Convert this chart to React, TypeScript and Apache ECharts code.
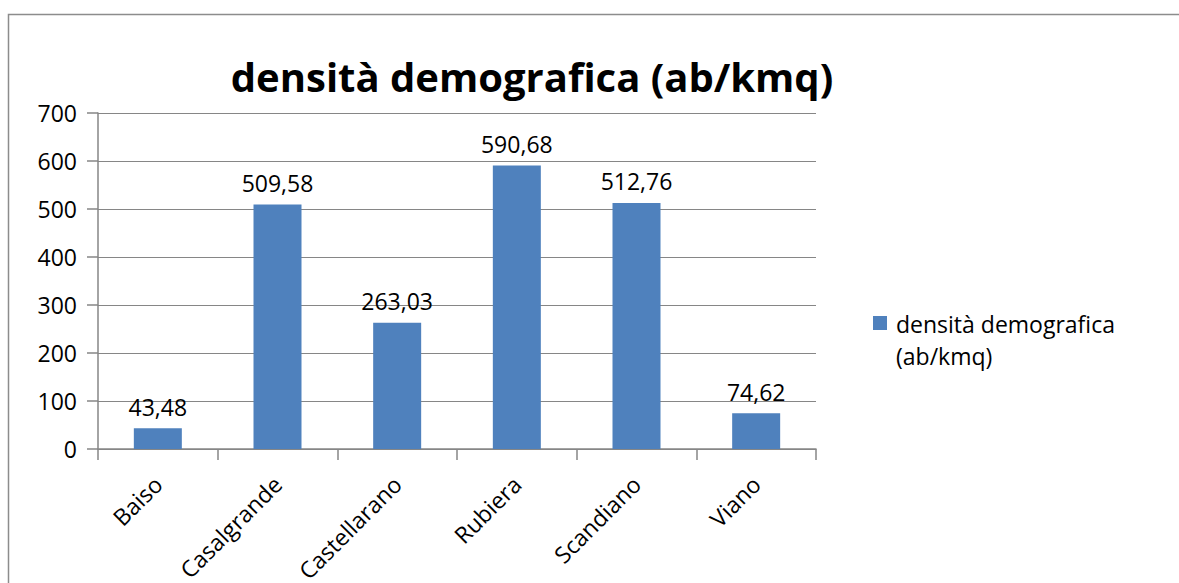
import React, { useEffect, useRef } from "react";
import * as echarts from "echarts";

const categories = ["Baiso", "Casalgrande", "Castellarano", "Rubiera", "Scandiano", "Viano"];
const densita = [43.48, 509.58, 263.03, 590.68, 512.76, 74.62];
const seriesName = "densità demografica (ab/kmq)";
const titleText = "densità demografica (ab/kmq)";
const legendLines = ["densità demografica", "(ab/kmq)"];

const FONT = "'Open Sans', sans-serif";
const BAR_COLOR = "#4F81BD";
const AXIS_COLOR = "#868686";

export default function App() {
  const ref = useRef<HTMLDivElement>(null);
  useEffect(() => {
    document.body.style.margin = "0";
    const chart = echarts.init(ref.current!, null, { renderer: "svg" });
    chart.setOption({
      animation: false,
      backgroundColor: "#ffffff",
      textStyle: { fontFamily: FONT },
      title: {
        text: titleText,
        left: 527,
        top: 51,
        textAlign: "center",
        textStyle: { fontFamily: FONT, fontWeight: "bold", fontSize: 40, color: "#000" },
      },
      legend: { show: false, data: [seriesName] },
      graphic: [
        {
          type: "rect",
          shape: { x: 8.5, y: 14.5, width: 1200, height: 700 },
          style: { fill: "none", stroke: "#8c8c8c", lineWidth: 1.5 },
          silent: true,
        },
        {
          type: "rect",
          shape: { x: 873, y: 316, width: 14, height: 14 },
          style: { fill: BAR_COLOR },
          silent: true,
        },
        {
          type: "text",
          x: 896,
          y: 324,
          style: { text: legendLines[0], fontFamily: FONT, fontSize: 23, fill: "#000", verticalAlign: "middle" },
          silent: true,
        },
        {
          type: "text",
          x: 896,
          y: 356,
          style: { text: legendLines[1], fontFamily: FONT, fontSize: 23, fill: "#000", verticalAlign: "middle" },
          silent: true,
        },
      ],
      grid: { left: 98, right: 363, top: 113, bottom: 134, containLabel: false, outerBoundsMode: "none" },
      xAxis: {
        type: "category",
        data: categories,
        axisLine: { lineStyle: { color: AXIS_COLOR, width: 1.5 } },
        axisTick: { show: true, length: 11, alignWithLabel: false, lineStyle: { color: AXIS_COLOR, width: 1.5 } },
        axisLabel: { rotate: 45, margin: 31, fontFamily: FONT, fontSize: 23, color: "#000" },
      },
      yAxis: {
        type: "value",
        min: 0,
        max: 700,
        interval: 100,
        axisLine: { show: true, lineStyle: { color: AXIS_COLOR, width: 1.5 } },
        axisTick: { show: true, length: 11, lineStyle: { color: AXIS_COLOR, width: 1.5 } },
        splitLine: { lineStyle: { color: AXIS_COLOR, width: 1 } },
        axisLabel: { margin: 21, fontFamily: FONT, fontSize: 23, color: "#000" },
      },
      series: [
        {
          name: seriesName,
          type: "bar",
          data: densita,
          barWidth: 48,
          itemStyle: { color: BAR_COLOR },
          label: {
            show: true,
            position: "top",
            distance: 10,
            fontFamily: FONT,
            fontSize: 23,
            color: "#000",
            formatter: (p: any) => p.value.toFixed(2).replace(".", ","),
          },
        },
      ],
    });
    return () => chart.dispose();
  }, []);
  return <div ref={ref} style={{ width: 1179, height: 583 }} />;
}
